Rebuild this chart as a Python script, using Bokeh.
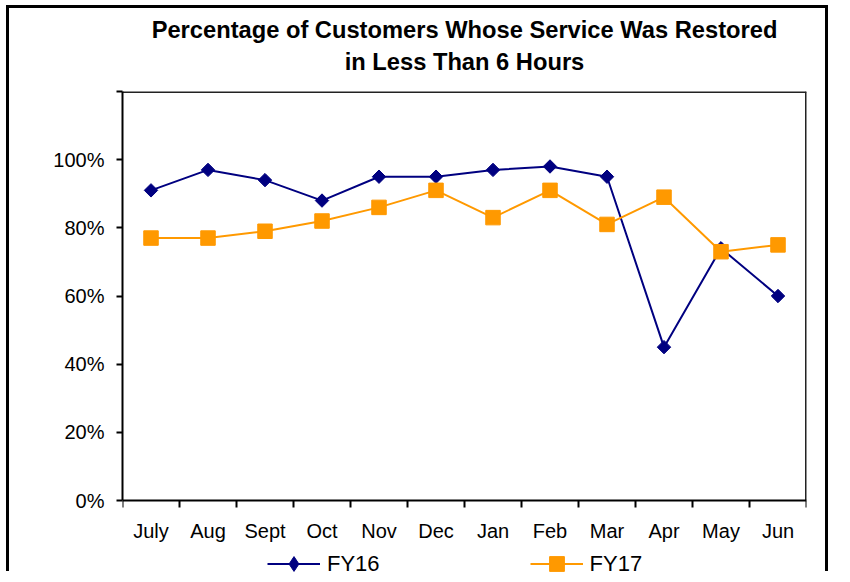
import math
from bokeh.plotting import figure
from bokeh.models import (FixedTicker, PrintfTickFormatter, Legend, LegendItem,
                          Title, Range1d, ColumnDataSource)
from bokeh.embed import file_html
from bokeh.resources import INLINE

months = ["July", "Aug", "Sept", "Oct", "Nov", "Dec", "Jan", "Feb", "Mar", "Apr", "May", "Jun"]
fy16 = [91, 97, 94, 88, 95, 95, 97, 98, 95, 45, 74, 60]
fy17 = [77, 77, 79, 82, 86, 91, 83, 91, 81, 89, 73, 75]
y_ticks = [0, 20, 40, 60, 80, 100, 120]
Y_MAX = 120

FONT = "Liberation Sans"
NAVY = "#000080"
ORANGE = "#FF9900"

xpos = [i + 0.5 for i in range(len(months))]
src = ColumnDataSource(dict(x=xpos, fy16=fy16, fy17=fy17))

# frame extends below the value axis to hold the legend; x axis is pinned at y=0
p = figure(width=822, height=566, output_backend="svg", toolbar_location=None,
           x_range=Range1d(0, len(months)), y_range=Range1d(-21.7, Y_MAX),
           min_border_left=113, min_border_right=25, min_border_top=83, min_border_bottom=0,
           styles={"margin-left": "6px", "margin-top": "5px",
                   "border-left": "3px solid black", "border-top": "3px solid black",
                   "border-right": "3px solid black"})
p.xgrid.visible = False
p.ygrid.visible = False
p.outline_line_color = None

# plot-area border (top and right edges)
p.segment(x0=[0, len(months)], y0=[Y_MAX, 0], x1=[len(months), len(months)], y1=[Y_MAX, Y_MAX],
          line_color="#222222", line_width=3)

# titles (added bottom line first so it sits closest to the plot)
p.add_layout(Title(text="in Less Than 6 Hours", align="center", text_font=FONT,
                   text_font_size="23.7px", text_font_style="bold", text_color="black",
                   standoff=34), "above")
p.add_layout(Title(text="Percentage of Customers Whose Service Was Restored", align="center",
                   text_font=FONT, text_font_size="23.7px", text_font_style="bold",
                   text_color="black", standoff=-26), "above")

# x axis: labels at category centers, ticks at category boundaries
p.xaxis.fixed_location = 0
p.xaxis.ticker = FixedTicker(ticks=xpos, minor_ticks=list(range(len(months) + 1)))
p.xaxis.major_label_overrides = {x: m for x, m in zip(xpos, months)}
p.xaxis.major_tick_out = 0
p.xaxis.major_tick_in = 0
p.xaxis.minor_tick_out = 7
p.xaxis.minor_tick_in = 0
p.xaxis.minor_tick_line_color = "black"
p.xaxis.minor_tick_line_width = 2
p.xaxis.major_label_standoff = 12
p.xaxis.major_label_text_font = FONT
p.xaxis.major_label_text_font_size = "20px"
p.xaxis.major_label_text_color = "black"
p.xaxis.axis_line_color = "black"
p.xaxis.axis_line_width = 2

# y axis
p.yaxis.bounds = (0, Y_MAX)
p.yaxis.ticker = FixedTicker(ticks=y_ticks, minor_ticks=[])
p.yaxis.formatter = PrintfTickFormatter(format="%d%%")
p.yaxis.major_label_overrides = {120: ""}
p.yaxis.major_tick_out = 6
p.yaxis.major_tick_in = 0
p.yaxis.major_tick_line_color = "black"
p.yaxis.major_tick_line_width = 2
p.yaxis.minor_tick_line_color = None
p.yaxis.major_label_standoff = 12
p.yaxis.major_label_text_font = FONT
p.yaxis.major_label_text_font_size = "20px"
p.yaxis.major_label_text_color = "black"
p.yaxis.axis_line_color = "black"
p.yaxis.axis_line_width = 2

# series
l16 = p.line("x", "fy16", source=src, line_color=NAVY, line_width=2)
s16 = p.scatter("x", "fy16", source=src, marker="square", angle=math.pi / 4, size=9.5,
                fill_color=NAVY, line_color=NAVY)
l17 = p.line("x", "fy17", source=src, line_color=ORANGE, line_width=2)
s17 = p.scatter("x", "fy17", source=src, marker="square", size=14.5,
                fill_color=ORANGE, line_color=ORANGE)

# legend-only diamond marker (no visible data)
leg16 = p.scatter(x=[float("nan")], y=[float("nan")], marker="diamond",
                  fill_color=NAVY, line_color=NAVY)

legend = Legend(items=[LegendItem(label="FY16", renderers=[l16, leg16]),
                       LegendItem(label="FY17", renderers=[l17, s17])],
                orientation="horizontal", location=(145, -8),
                glyph_width=53, glyph_height=37, label_standoff=7, spacing=150,
                padding=0, margin=0, border_line_color=None, background_fill_alpha=0,
                label_text_font=FONT, label_text_font_size="22px", label_text_color="black")
p.add_layout(legend)

open("out.html", "w").write(file_html(p, INLINE))
